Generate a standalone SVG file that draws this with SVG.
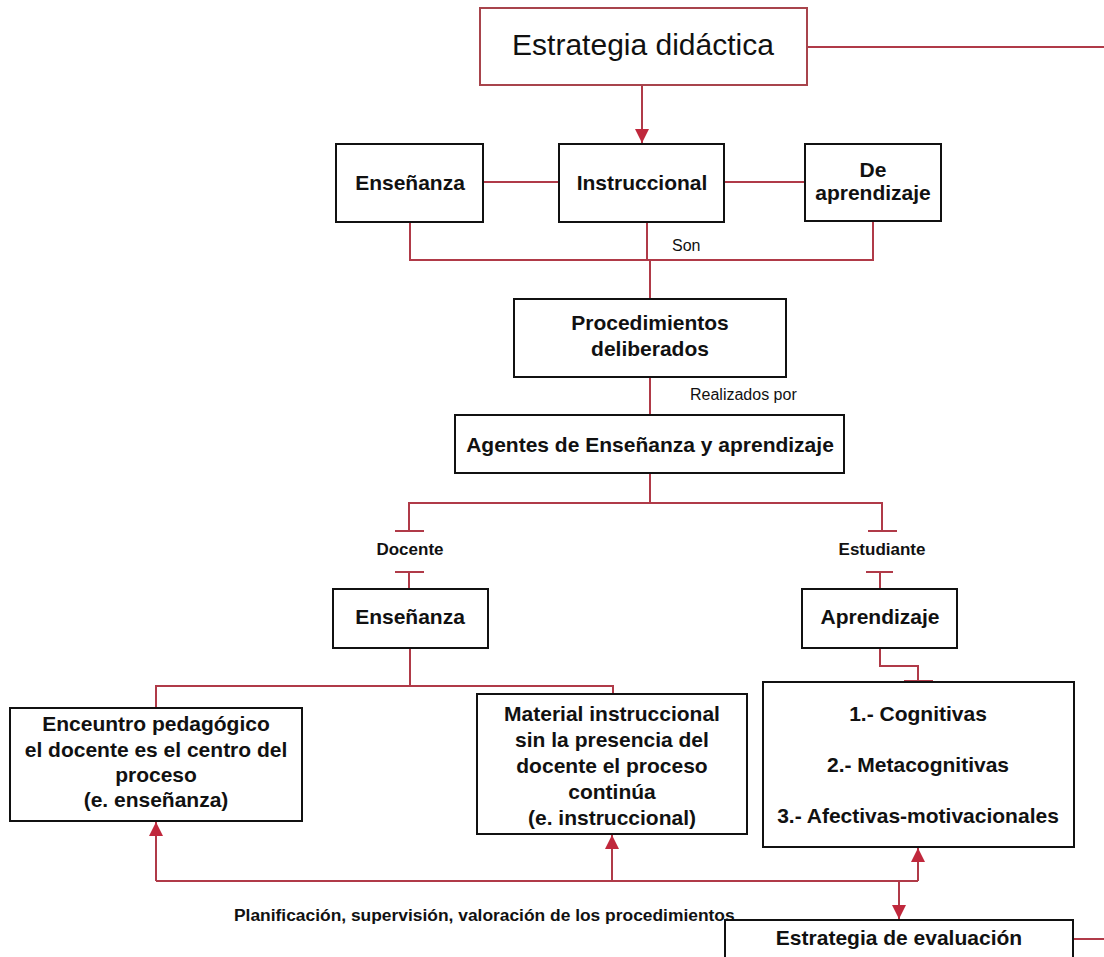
<svg xmlns="http://www.w3.org/2000/svg" width="1104" height="957" viewBox="0 0 1104 957">
<style>
  .box{fill:#fff;stroke:#111;stroke-width:2}
  .top{fill:#fff;stroke:#a8444c;stroke-width:2}
  .ln{fill:none;stroke:#b03a48;stroke-width:2}
  .t{font-family:"Liberation Sans",Arial,sans-serif;font-weight:bold;font-size:21px;fill:#111;text-anchor:middle}
  .lbl{font-family:"Liberation Sans",Arial,sans-serif;font-size:16px;fill:#111}
  .lblb{font-family:"Liberation Sans",Arial,sans-serif;font-weight:bold;font-size:17px;fill:#111;text-anchor:middle}
</style>
<defs>
  <marker id="ah" viewBox="0 0 14 14" refX="14" refY="7" markerWidth="14" markerHeight="14" markerUnits="userSpaceOnUse" orient="auto">
    <path d="M0,0 L14,7 L0,14 Z" fill="#c0283c"/>
  </marker>
</defs>
<rect width="1104" height="957" fill="#fff"/>
<g id="connectors">
  <path class="ln" d="M807,47 H1104"/>
  <path class="ln" d="M642,85 V143" marker-end="url(#ah)"/>
  <path class="ln" d="M483,182 H559 M724,182 H805"/>
  <path class="ln" d="M410,222 V260 H873 V222"/>
  <path class="ln" d="M632,222 H662 M647,222 V260 M650,260 V299"/>
  <path class="ln" d="M650,377 V415"/>
  <path class="ln" d="M650,473 V503 M409,531 V503 H882 V531"/>
  <path class="ln" d="M395,531 H424 M868,531 H897"/>
  <path class="ln" d="M395,572 H424 M409,572 V589 M866,572 H893 M880,572 V589"/>
  <path class="ln" d="M880,648 V666 H918 V682 M904,681 H933"/>
  <path class="ln" d="M410,648 V686 M156,708 V686 H613 V694"/>
  <path class="ln" d="M156,881 H918"/>
  <path class="ln" d="M156,881 V822" marker-end="url(#ah)"/>
  <path class="ln" d="M612,881 V835" marker-end="url(#ah)"/>
  <path class="ln" d="M918,881 V848" marker-end="url(#ah)"/>
  <path class="ln" d="M899,881 V919" marker-end="url(#ah)"/>
  <path class="ln" d="M1073,939 H1104"/>
</g>
<g id="n-estrategia">
  <rect class="top" x="480" y="8" width="327" height="77"/>
  <text x="643" y="55" style="font-family:'Liberation Sans',Arial,sans-serif;font-size:30px;fill:#111;text-anchor:middle">Estrategia didáctica</text>
</g>
<g id="n-ensenanza1">
  <rect class="box" x="336" y="144" width="147" height="78"/>
  <text class="t" x="410" y="190">Enseñanza</text>
</g>
<g id="n-instruccional">
  <rect class="box" x="559" y="144" width="165" height="78"/>
  <text class="t" x="642" y="190">Instruccional</text>
</g>
<g id="n-deaprendizaje">
  <rect class="box" x="805" y="144" width="136" height="77"/>
  <text class="t" x="873" y="177">De</text>
  <text class="t" x="873" y="200">aprendizaje</text>
</g>
<g id="l-son"><text class="lbl" x="672" y="251">Son</text></g>
<g id="n-procedimientos">
  <rect class="box" x="514" y="299" width="272" height="78"/>
  <text class="t" x="650" y="330">Procedimientos</text>
  <text class="t" x="650" y="356">deliberados</text>
</g>
<g id="l-realizados"><text class="lbl" x="690" y="400">Realizados por</text></g>
<g id="n-agentes">
  <rect class="box" x="455" y="415" width="389" height="58"/>
  <text class="t" x="650" y="452">Agentes de Enseñanza y aprendizaje</text>
</g>
<g id="l-docente"><text class="lblb" x="410" y="555">Docente</text></g>
<g id="l-estudiante"><text class="lblb" x="882" y="555">Estudiante</text></g>
<g id="n-ensenanza2">
  <rect class="box" x="333" y="589" width="155" height="59"/>
  <text class="t" x="410" y="624">Enseñanza</text>
</g>
<g id="n-aprendizaje">
  <rect class="box" x="802" y="589" width="155" height="59"/>
  <text class="t" x="880" y="624">Aprendizaje</text>
</g>
<g id="n-encuentro">
  <rect class="box" x="10" y="708" width="292" height="113"/>
  <text class="t" x="156" y="731">Enceuntro pedagógico</text>
  <text class="t" x="156" y="757">el docente es el centro del</text>
  <text class="t" x="156" y="782">proceso</text>
  <text class="t" x="156" y="807">(e. enseñanza)</text>
</g>
<g id="n-material">
  <rect class="box" x="477" y="694" width="270" height="140"/>
  <text class="t" x="612" y="721">Material instruccional</text>
  <text class="t" x="612" y="747">sin la presencia del</text>
  <text class="t" x="612" y="773">docente el proceso</text>
  <text class="t" x="612" y="799">continúa</text>
  <text class="t" x="612" y="825">(e. instruccional)</text>
</g>
<g id="n-tipos">
  <rect class="box" x="763" y="682" width="311" height="165"/>
  <text class="t" x="918" y="721">1.- Cognitivas</text>
  <text class="t" x="918" y="772">2.- Metacognitivas</text>
  <text class="t" x="918" y="823">3.- Afectivas-motivacionales</text>
</g>
<g id="l-planificacion"><text class="lblb" x="234" y="921" style="text-anchor:start;font-size:17.4px">Planificación, supervisión, valoración de los procedimientos</text></g>
<g id="n-evaluacion">
  <rect class="box" x="725" y="920" width="348" height="60"/>
  <text class="t" x="899" y="945">Estrategia de evaluación</text>
</g>
</svg>
